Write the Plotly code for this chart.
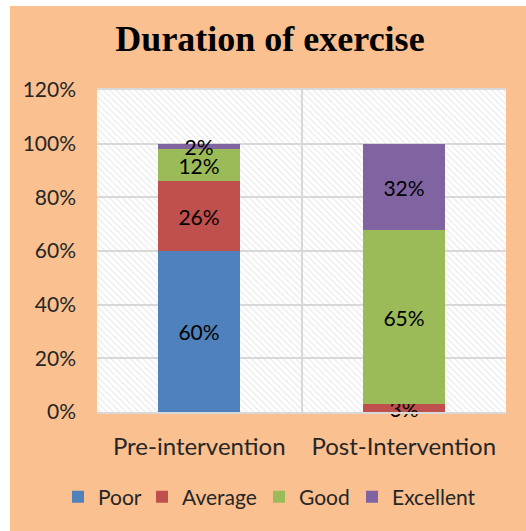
import plotly.graph_objects as go

# Survey results: share of participants per exercise-duration rating
categories = ["Pre-intervention", "Post-Intervention"]
ratings = ["Poor", "Average", "Good", "Excellent"]
poor = [60, 0]
average = [26, 3]
good = [12, 65]
excellent = [2, 32]
y_ticks = [0, 20, 40, 60, 80, 100, 120]
y_tick_labels = [f"{v}%" for v in y_ticks]

series = [poor, average, good, excellent]
colors = ["#4F81BD", "#C0504D", "#9BBB59", "#8064A2"]

FONT = "Lato"
ORANGE = "#FAC090"
GRID = "#D9D9D9"
W, H = 526, 531

fig = go.Figure()

# Hatched plot-area background drawn as one full-width bar on a hidden axis
fig.add_trace(go.Bar(
    x=[0.5], y=[max(y_ticks)], width=[1], xaxis="x", yaxis="y",
    marker=dict(color="rgba(0,0,0,0)", line=dict(width=0),
                pattern=dict(shape="\\", fgcolor="#CFCFCF", bgcolor="rgba(0,0,0,0)",
                             size=4.5, solidity=0.25)),
    hoverinfo="skip", showlegend=False,
))

# One legend per rating so the key entries sit in a single row
legend_ids = ["legend", "legend2", "legend3", "legend4"]
legend_left_px = [58, 142, 259, 352]

for name, vals, col, lg in zip(ratings, series, colors, legend_ids):
    fig.add_trace(go.Bar(
        name=name, x=categories, y=vals, xaxis="x2", yaxis="y",
        width=0.4, legend=lg,
        marker=dict(color=col, line=dict(width=0)),
        text=[f"{v}%" if v else "" for v in vals],
        textposition="inside", insidetextanchor="middle",
        constraintext="none", cliponaxis=False,
        textfont=dict(family=FONT, size=21, color="black"),
    ))

legend_style = dict(orientation="h", xref="container", yref="container",
                    xanchor="left", y=1 - 497 / H, yanchor="middle",
                    bgcolor="rgba(0,0,0,0)", borderwidth=0,
                    font=dict(family=FONT, size=21, color="#262626"))
legends = {lg: dict(legend_style, x=px / W) for lg, px in zip(legend_ids, legend_left_px)}

fig.update_layout(
    width=W, height=H,
    margin=dict(l=97, r=20, t=90, b=119, autoexpand=False),
    paper_bgcolor="white",
    plot_bgcolor="white",
    barmode="stack",
    bargap=0,
    title=dict(text="<b>Duration of exercise</b>", x=270 / W, xanchor="center",
               xref="container", y=1 - 38 / H, yanchor="middle", yref="container",
               font=dict(family="Liberation Serif", size=36, color="black")),
    xaxis=dict(range=[0, 1], tickvals=[0.5], showticklabels=False, ticks="",
               showgrid=True, gridcolor=GRID, gridwidth=1.5,
               showline=True, linecolor=GRID, linewidth=1.5, mirror=True,
               zeroline=False, fixedrange=True),
    xaxis2=dict(overlaying="x", side="bottom", type="category",
                range=[-0.5, 1.5], showgrid=False, showline=False, ticks="",
                ticklabelstandoff=18,
                tickfont=dict(family=FONT, size=24, color="#262626")),
    yaxis=dict(range=[0, 120], tickmode="array", tickvals=y_ticks,
               ticktext=y_tick_labels,
               showgrid=True, gridcolor=GRID, gridwidth=1.5, zeroline=False,
               ticks="", ticklabelstandoff=20,
               tickfont=dict(family=FONT, size=21, color="#262626")),
    shapes=[
        dict(type="rect", xref="paper", yref="paper",
             x0=(10 - 97) / 409, x1=1.2, y0=-0.5, y1=(411.7 - 6) / 321.7,
             fillcolor=ORANGE, line=dict(width=0), layer="below"),
        dict(type="rect", xref="x domain", yref="y domain",
             x0=0, x1=1, y0=0, y1=1,
             fillcolor="white", line=dict(width=0), layer="below"),
    ],
    **legends,
)

fig.write_html("out.html")
